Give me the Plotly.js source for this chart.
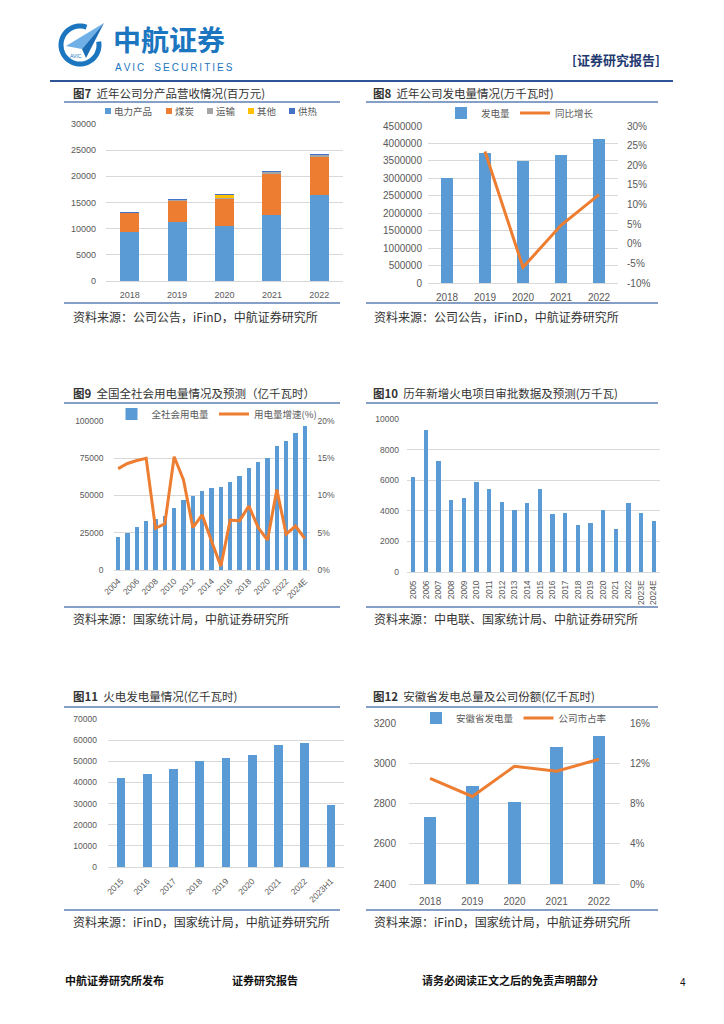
<!DOCTYPE html>
<html><head><meta charset="utf-8">
<script src="https://cdn.plot.ly/plotly-3.0.1.min.js"></script>
<style>html,body{margin:0;padding:0;background:#fff}#page{width:724px;height:1024px}</style>
</head><body><div id="page"></div>
<script>
// ---------- data ----------
// 图7
const years7 = ['2018','2019','2020','2021','2022'];
const names7 = ['电力产品','煤炭','运输','其他','供热'];
const power7 = [9300, 11350, 10600, 12550, 16400];
const coal7 = [3600, 3950, 5050, 7950, 7300];
const transport7 = [40, 100, 200, 250, 300];
const other7 = [0, 0, 500, 130, 130];
const heat7 = [180, 200, 330, 50, 50];
// 图8
const years8 = ['2018','2019','2020','2021','2022'];
const gen8 = [3010000, 3716000, 3497000, 3659000, 4118000];
const yoyYears8 = ['2019','2020','2021','2022'];
const yoy8 = [23.5, -6.0, 4.7, 12.5];
const rightTicks8 = [-10, -5, 0, 5, 10, 15, 20, 25, 30];
const rightLabels8 = ['-10%','-5%','0%','5%','10%','15%','20%','25%','30%'];
// 图9
const years9 = ['2004','2005','2006','2007','2008','2009','2010','2011','2012','2013','2014','2015','2016','2017','2018','2019','2020','2021','2022','2023','2024E'];
const cons9 = [21970, 24940, 28590, 32710, 34540, 36430, 41920, 47000, 49590, 53220, 55230, 55500, 59200, 63080, 68450, 72260, 75110, 83130, 86370, 92240, 96400];
const growth9 = [13.6, 14.3, 14.7, 15.0, 5.6, 6.2, 15.2, 12.1, 5.7, 7.4, 3.9, 0.5, 6.7, 6.6, 8.6, 5.7, 4.0, 10.8, 4.8, 5.9, 4.2];
const ticks9 = ['2004','2006','2008','2010','2012','2014','2016','2018','2020','2022','2024E'];
// 图10
const years10 = ['2005','2006','2007','2008','2009','2010','2011','2012','2013','2014','2015','2016','2017','2018','2019','2020','2021','2022','2023E','2024E'];
const approvals10 = [6200, 9280, 7250, 4680, 4820, 5870, 5440, 4560, 4080, 4520, 5410, 3800, 3840, 3060, 3230, 4020, 2800, 4480, 3840, 3320];
// 图11
const years11 = ['2015','2016','2017','2018','2019','2020','2021','2022','2023H1'];
const thermal11 = [42100, 44000, 46200, 50000, 51700, 52800, 57700, 58500, 29400];
// 图12
const years12 = ['2018','2019','2020','2021','2022'];
const anhui12 = [2735, 2886, 2808, 3082, 3134];
const share12 = [10.5, 8.7, 11.7, 11.2, 12.4];

// ---------- helpers ----------
const W = 724, H = 1024;
const X = p => p / W, Y = p => 1 - p / H;
const BLUE = '#5B9BD5', ORANGE = '#ED7D31', GRID = '#D9D9D9', TICK = '#595959';
const NUM = 'Liberation Sans, Noto Sans CJK SC, sans-serif';
const CJK = 'Noto Sans CJK SC, Liberation Sans, sans-serif';
const colors7 = ['#5B9BD5', '#ED7D31', '#A5A5A5', '#FFC000', '#4472C4'];
const series7 = [power7, coal7, transport7, other7, heat7];

function xAx(l, r, anchor, size, angle, standoff, extra) {
  return Object.assign({
    domain: [X(l), X(r)], anchor: anchor, type: 'category',
    showgrid: false, zeroline: false, showline: true, linecolor: GRID, linewidth: 1,
    ticks: '', tickangle: angle, ticklabelstandoff: standoff,
    tickfont: {family: NUM, size: size, color: TICK}, fixedrange: true
  }, extra || {});
}
function yAx(top, bot, anchor, range, dtick, size, standoff, extra) {
  return Object.assign({
    domain: [Y(bot), Y(top)], anchor: anchor, range: range, dtick: dtick,
    showgrid: true, gridcolor: GRID, gridwidth: 1, zeroline: false, showline: false,
    ticks: '', tickformat: 'd', ticklabelstandoff: standoff,
    tickfont: {family: NUM, size: size, color: TICK}, fixedrange: true
  }, extra || {});
}

// ---------- traces ----------
const data = [];
series7.forEach((vals, i) => data.push({
  type: 'bar', x: years7, y: vals, name: names7[i], marker: {color: colors7[i]},
  width: 0.4, xaxis: 'x', yaxis: 'y', showlegend: false
}));
data.push({type: 'bar', x: years8, y: gen8, name: '发电量', marker: {color: BLUE}, width: 0.32, xaxis: 'x2', yaxis: 'y2', legend: 'legend'});
data.push({type: 'scatter', mode: 'lines', x: yoyYears8, y: yoy8, name: '同比增长', line: {color: ORANGE, width: 3}, xaxis: 'x2', yaxis: 'y3', legend: 'legend'});
data.push({type: 'bar', x: years9, y: cons9, name: '全社会用电量', marker: {color: BLUE}, width: 0.46, xaxis: 'x3', yaxis: 'y4', legend: 'legend2'});
data.push({type: 'scatter', mode: 'lines', x: years9, y: growth9, name: '用电量增速(%)', line: {color: ORANGE, width: 3}, xaxis: 'x3', yaxis: 'y5', legend: 'legend2'});
data.push({type: 'bar', x: years10, y: approvals10, name: '审批', marker: {color: BLUE}, width: 0.34, xaxis: 'x4', yaxis: 'y6', showlegend: false});
data.push({type: 'bar', x: years11, y: thermal11, name: '火电发电量', marker: {color: BLUE}, width: 0.33, xaxis: 'x5', yaxis: 'y7', showlegend: false});
data.push({type: 'bar', x: years12, y: anhui12, name: '安徽省发电量', marker: {color: BLUE}, width: 0.30, xaxis: 'x6', yaxis: 'y8', legend: 'legend3'});
data.push({type: 'scatter', mode: 'lines', x: years12, y: share12, name: '公司市占率', line: {color: ORANGE, width: 3}, xaxis: 'x6', yaxis: 'y9', legend: 'legend3'});

// ---------- annotations & shapes ----------
const ann = [], shapes = [];
function txt(x, y, text, size, color, family, anchor, extra) {
  ann.push(Object.assign({xref: 'paper', yref: 'paper', x: X(x), y: Y(y), text: text, showarrow: false,
    xanchor: anchor || 'left', yanchor: 'middle', borderpad: 0, font: {family: family || CJK, size: size, color: color}}, extra || {}));
}
function hline(x0, x1, y, color, w) {
  shapes.push({type: 'line', xref: 'paper', yref: 'paper', x0: X(x0), x1: X(x1), y0: Y(y), y1: Y(y), line: {color: color, width: w}});
}
// header
txt(112, 39, '<b>中航证券</b>', 28, '#1B76BF', CJK);
txt(114, 67, 'A\u2009V\u2009I\u2009C\u2003S\u2009E\u2009C\u2009U\u2009R\u2009I\u2009T\u2009I\u2009E\u2009S', 10, '#1B76BF', NUM);
txt(571, 59, '<b>[证券研究报告]</b>', 13, '#1F3A70', CJK);
hline(50, 673, 81, '#2F5597', 2);
// logo
(function () {
  const cx = 80, cy = 45, r = 19;
  let d = '';
  for (let k = 0; k <= 60; k++) {
    const a = (70 + k * (300 / 60)) * Math.PI / 180;
    const px = cx + r * Math.cos(a), py = cy - r * Math.sin(a);
    d += (k === 0 ? 'M' : 'L') + X(px) + ',' + Y(py);
  }
  shapes.push({type: 'path', xref: 'paper', yref: 'paper', path: d, line: {color: '#1B76BF', width: 5}});
  const tri = pts => 'M' + pts.map(p => X(p[0]) + ',' + Y(p[1])).join('L') + 'Z';
  shapes.push({type: 'path', xref: 'paper', yref: 'paper', path: tri([[104, 23], [66, 46], [82, 49]]), fillcolor: '#6FB0E6', line: {width: 0}});
  shapes.push({type: 'path', xref: 'paper', yref: 'paper', path: tri([[104, 23], [82, 49], [86, 58]]), fillcolor: '#1B6DB5', line: {width: 0}});
  txt(76, 56, 'AVIC', 5, '#1B76BF', NUM, 'center');
})();

// chart titles, rules, sources
const titles = [
  [72, 93, '<b>图7</b>  近年公司分产品营收情况(百万元)'],
  [372, 93, '<b>图8</b>  近年公司发电量情况(万千瓦时)'],
  [72, 393, '<b>图9</b>  全国全社会用电量情况及预测（亿千瓦时）'],
  [372, 393, '<b>图10</b>  历年新增火电项目审批数据及预测(万千瓦)'],
  [72, 696, '<b>图11</b>  火电发电量情况(亿千瓦时)'],
  [372, 696, '<b>图12</b>  安徽省发电总量及公司份额(亿千瓦时)']
];
titles.forEach(t => txt(t[0], t[1], t[2], 11.5, '#333333', CJK));
const RULE = '#5E7FB3';
[[64, 340, 102], [366, 658, 102], [64, 340, 403], [366, 658, 403], [64, 340, 707], [366, 658, 707],
 [64, 340, 303], [366, 658, 303], [64, 340, 607], [366, 658, 607], [64, 340, 910], [366, 658, 910]]
  .forEach(l => hline(l[0], l[1], l[2], RULE, 1.5));
const sources = [
  [72, 316, '资料来源：公司公告，iFinD，中航证券研究所'],
  [373, 316, '资料来源：公司公告，iFinD，中航证券研究所'],
  [72, 618, '资料来源：国家统计局，中航证券研究所'],
  [373, 618, '资料来源：中电联、国家统计局、中航证券研究所'],
  [72, 921, '资料来源：iFinD，国家统计局，中航证券研究所'],
  [373, 921, '资料来源：iFinD，国家统计局，中航证券研究所']
];
sources.forEach(s => txt(s[0], s[1], s[2], 12, '#333333', CJK));

// chart 7 legend (compact, Excel-like)
(function () {
  let x = 105; const y = 111;
  names7.forEach((n, i) => {
    shapes.push({type: 'rect', xref: 'paper', yref: 'paper', x0: X(x), x1: X(x + 6), y0: Y(y + 3), y1: Y(y - 3), fillcolor: colors7[i], line: {width: 0}});
    txt(x + 8, y, n, 9.5, TICK, CJK);
    x += 9 + n.length * 10 + 12;
  });
})();

// footer
txt(64, 980, '<b>中航证券研究所发布</b>', 11, '#111', CJK);
txt(231, 980, '<b>证券研究报告</b>', 11, '#111', CJK);
txt(421, 980, '<b>请务必阅读正文之后的免责声明部分</b>', 11, '#111', CJK);
txt(683, 982, '4', 10, '#111', NUM, 'center');

const legBase = {orientation: 'h', xanchor: 'center', yanchor: 'middle', bgcolor: 'rgba(0,0,0,0)',
  font: {family: CJK, size: 9.5, color: TICK}, itemwidth: 30, traceorder: 'normal'};

const layout = {
  width: W, height: H, margin: {l: 0, r: 0, t: 0, b: 0}, autosize: false,
  paper_bgcolor: '#fff', plot_bgcolor: 'rgba(0,0,0,0)', barmode: 'stack', showlegend: true,
  hovermode: false,
  xaxis: xAx(106, 343, 'y', 9, 0, 5),
  yaxis: yAx(124, 281, 'x', [0, 30000], 5000, 9, 9),
  xaxis2: xAx(428, 618, 'y2', 10, 0, 5),
  yaxis2: yAx(126, 283, 'x2', [0, 4500000], 500000, 10, 5),
  yaxis3: {overlaying: 'y2', side: 'right', anchor: 'x2', range: [-10, 30], tickvals: rightTicks8, ticktext: rightLabels8,
    showgrid: false, zeroline: false, showline: false, ticks: '', ticklabelstandoff: 8,
    tickfont: {family: NUM, size: 10, color: TICK}, fixedrange: true},
  xaxis3: xAx(113.5, 309.5, 'y4', 8.5, -45, 2, {tickmode: 'array', tickvals: ticks9, ticktext: ticks9}),
  yaxis4: yAx(421, 570, 'x3', [0, 100000], 25000, 8.5, 9),
  yaxis5: {overlaying: 'y4', side: 'right', anchor: 'x3', range: [0, 20], dtick: 5, ticksuffix: '%',
    showgrid: false, zeroline: false, showline: false, ticks: '', ticklabelstandoff: 7,
    tickfont: {family: NUM, size: 8.5, color: TICK}, fixedrange: true},
  xaxis4: xAx(407, 660, 'y6', 8.5, -90, 4),
  yaxis6: yAx(419, 572, 'x4', [0, 10000], 2000, 8.5, 7),
  xaxis5: xAx(108, 344, 'y7', 8.5, -45, 5),
  yaxis7: yAx(719, 867, 'x5', [0, 70000], 10000, 8.5, 10),
  xaxis6: xAx(409, 620, 'y8', 10, 0, 8),
  yaxis8: yAx(723, 884, 'x6', [2400, 3200], 200, 10, 12),
  yaxis9: {overlaying: 'y8', side: 'right', anchor: 'x6', range: [0, 16], dtick: 4, ticksuffix: '%',
    showgrid: false, zeroline: false, showline: false, ticks: '', ticklabelstandoff: 9,
    tickfont: {family: NUM, size: 10, color: TICK}, fixedrange: true},
  legend: Object.assign({}, legBase, {x: X(520), y: Y(113)}),
  legend2: Object.assign({}, legBase, {x: X(217), y: Y(414)}),
  legend3: Object.assign({}, legBase, {x: X(514), y: Y(718)}),
  annotations: ann, shapes: shapes
};

Plotly.newPlot('page', data, layout, {staticPlot: true, displayModeBar: false});
</script></body></html>
